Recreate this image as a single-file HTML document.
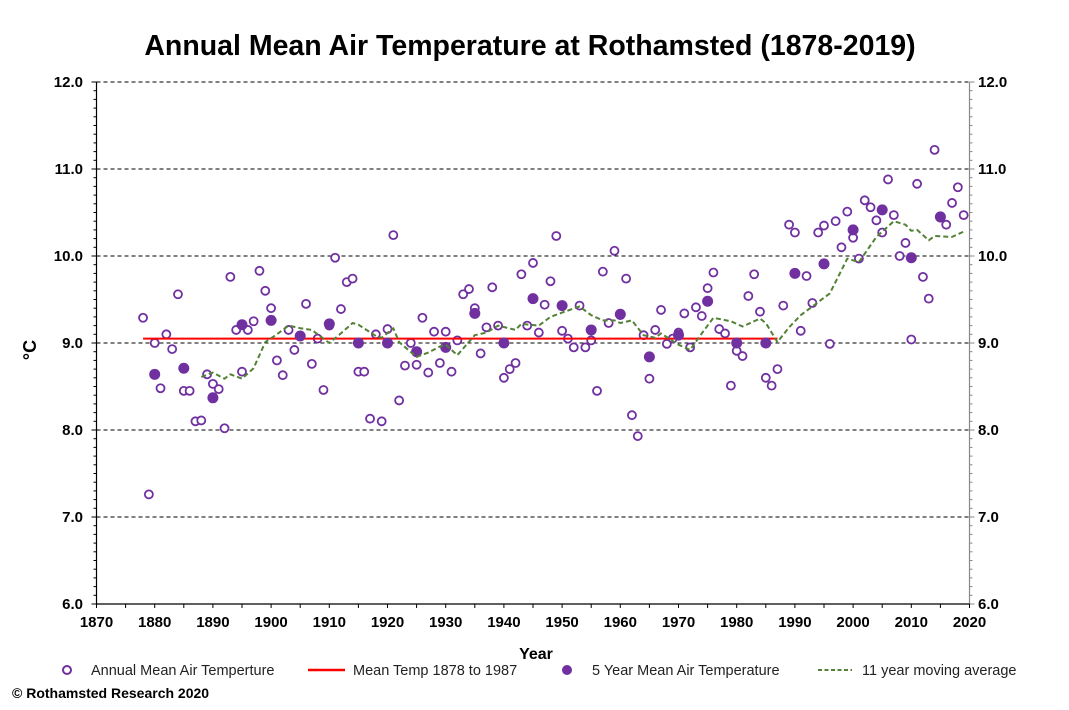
<!DOCTYPE html>
<html><head><meta charset="utf-8"><style>
body{margin:0;background:#fff;}
svg{display:block;font-family:"Liberation Sans",Arial,sans-serif;}
</style></head><body>
<svg id="chart" width="1069" height="710" viewBox="0 0 1069 710">
<text x="530" y="55" text-anchor="middle" font-size="28.5" font-weight="bold">Annual Mean Air Temperature at Rothamsted (1878-2019)</text>
<g id="grid"></g>
<g id="axes"></g>
<g id="marks"></g>
<text x="36" y="350" font-size="18" font-weight="bold" text-anchor="middle" transform="rotate(-90 36 350)">°C</text>
<text x="536" y="659" font-size="16" font-weight="bold" text-anchor="middle">Year</text>
<g font-size="14.5" fill="#222">
 <g><circle cx="67" cy="670" r="4" fill="#fff" stroke="#7030a0" stroke-width="2"/><text x="91" y="675">Annual Mean Air Temperture</text></g>
 <g><line x1="308" y1="670" x2="345" y2="670" stroke="#ff0000" stroke-width="2.5"/><text x="353" y="675">Mean Temp 1878 to 1987</text></g>
 <g><circle cx="567" cy="670" r="5" fill="#7030a0"/><text x="592" y="675">5 Year Mean Air Temperature</text></g>
 <g><line x1="818" y1="670" x2="852" y2="670" stroke="#538135" stroke-width="2" stroke-dasharray="4,2.5"/><text x="862" y="675">11 year moving average</text></g>
</g>
<text x="12" y="698" font-size="14" font-weight="bold">© Rothamsted Research 2020</text>
</svg>
<script>
const annualStartYear = 1878;
const annualTemps = [9.29,7.26,9.00,8.48,9.10,8.93,9.56,8.45,8.45,8.10,8.11,8.64,8.53,8.47,8.02,9.76,9.15,8.67,9.15,9.25,9.83,9.60,9.40,8.80,8.63,9.15,8.92,9.08,9.45,8.76,9.05,8.46,9.20,9.98,9.39,9.70,9.74,8.67,8.67,8.13,9.10,8.10,9.16,10.24,8.34,8.74,9.00,8.75,9.29,8.66,9.13,8.77,9.13,8.67,9.03,9.56,9.62,9.40,8.88,9.18,9.64,9.20,8.60,8.70,8.77,9.79,9.20,9.92,9.12,9.44,9.71,10.23,9.14,9.05,8.95,9.43,8.95,9.03,8.45,9.82,9.23,10.06,9.32,9.74,8.17,7.93,9.09,8.59,9.15,9.38,8.99,9.05,9.12,9.34,8.95,9.41,9.31,9.63,9.81,9.16,9.11,8.51,8.91,8.85,9.54,9.79,9.36,8.60,8.51,8.70,9.43,10.36,10.27,9.14,9.77,9.46,10.27,10.35,8.99,10.40,10.10,10.51,10.21,9.97,10.64,10.56,10.41,10.27,10.88,10.47,10.00,10.15,9.04,10.83,9.76,9.51,11.22,10.44,10.36,10.61,10.79,10.47];
const fiveYearYears = [1880,1885,1890,1895,1900,1905,1910,1915,1920,1925,1930,1935,1940,1945,1950,1955,1960,1965,1970,1975,1980,1985,1990,1995,2000,2005,2010,2015];
const fiveYearTemps = [8.64,8.71,8.37,9.21,9.26,9.08,9.22,9.00,9.00,8.90,8.95,9.34,9.00,9.51,9.43,9.15,9.33,8.84,9.09,9.48,9.00,9.00,9.80,9.91,10.30,10.53,9.98,10.45];
const maYears = [1888,1890,1892,1893,1895,1897,1899,1901,1903,1905,1907,1909,1910,1912,1914,1915,1918,1919,1921,1922,1925,1927,1929,1930,1932,1935,1937,1939,1942,1943,1946,1948,1950,1953,1955,1957,1959,1960,1962,1964,1966,1967,1970,1972,1974,1976,1979,1981,1984,1985,1987,1989,1991,1993,1996,1999,2001,2004,2007,2009,2010,2011,2013,2014,2017,2019];
const maTemps = [8.61,8.66,8.59,8.64,8.59,8.71,9.01,9.10,9.20,9.17,9.15,9.05,9.00,9.11,9.23,9.21,9.08,9.06,9.17,9.01,8.84,8.89,8.96,8.98,8.86,9.09,9.12,9.20,9.15,9.22,9.20,9.30,9.35,9.42,9.32,9.26,9.26,9.23,9.26,9.09,9.06,9.11,8.98,8.92,9.11,9.29,9.25,9.19,9.28,9.23,9.01,9.18,9.32,9.42,9.57,9.97,9.93,10.22,10.40,10.36,10.29,10.30,10.18,10.23,10.22,10.28];
const meanYears = [1878,1987];
const meanTemp = 9.05;
const xTicks = [1870,1880,1890,1900,1910,1920,1930,1940,1950,1960,1970,1980,1990,2000,2010,2020];
const yTicks = [6,7,8,9,10,11,12];

const X0=96.5,X1=969.5,Y0=604,Y1=82;
const xMin=1870,xMax=2020,yMin=6,yMax=12;
function sx(v){return X0+(v-xMin)/(xMax-xMin)*(X1-X0);}
function sy(v){return Y0-(v-yMin)/(yMax-yMin)*(Y0-Y1);}
const NS='http://www.w3.org/2000/svg';
function mk(tag,attrs,parent){const e=document.createElementNS(NS,tag);for(const k in attrs)e.setAttribute(k,attrs[k]);parent.appendChild(e);return e;}
const grid=document.getElementById('grid'),axes=document.getElementById('axes'),marks=document.getElementById('marks');

yTicks.forEach(t=>{
 if(t>yMin){const g=mk('line',{x1:X0,x2:X1,y1:sy(t),y2:sy(t),stroke:'#000','stroke-width':1,'stroke-dasharray':'4,3'},grid);
 
 }
 const l=mk('text',{x:83,y:sy(t)+5,'text-anchor':'end','font-size':15,'font-weight':'bold'},axes);l.textContent=t.toFixed(1);
 
 
 const r=mk('text',{x:978,y:sy(t)+5,'font-size':15,'font-weight':'bold'},axes);r.textContent=t.toFixed(1);
 
 
});
for(let v=60;v<=120;v++){
 const y=sy(v/10),maj=v%10===0;
 mk('line',{x1:X0-(maj?5:3),x2:X0,y1:y,y2:y,stroke:'#000','stroke-width':1},axes);
 mk('line',{x1:X1,x2:X1+(maj?5:3),y1:y,y2:y,stroke:'#888','stroke-width':1},axes);
}
for(let yr=1870;yr<=2020;yr+=5){
 mk('line',{x1:sx(yr),x2:sx(yr),y1:Y0,y2:Y0+4,stroke:'#000','stroke-width':1},axes);
}
xTicks.forEach(t=>{
 const l=mk('text',{x:sx(t),y:627,'text-anchor':'middle','font-size':15,'font-weight':'bold'},axes);l.textContent=t;
 
 
});
const ya=mk('line',{x1:X0,x2:X0,y1:Y1,y2:Y0,stroke:'#000','stroke-width':1.2},axes);


const yr2=mk('line',{x1:X1,x2:X1,y1:Y1,y2:Y0,stroke:'#888','stroke-width':1.2},axes);


const xa=mk('line',{x1:X0,x2:X1,y1:Y0,y2:Y0,stroke:'#000','stroke-width':1.2},axes);



annualTemps.forEach((v,i)=>{
 const c=mk('circle',{cx:sx(annualStartYear+i),cy:sy(v),r:4,fill:'#fff',stroke:'#7030a0','stroke-width':1.8},marks);
 
 
});
const ml=mk('line',{x1:sx(meanYears[0]),x2:sx(meanYears[1]),y1:sy(meanTemp),y2:sy(meanTemp),stroke:'#ff0000','stroke-width':2},marks);


fiveYearTemps.forEach((v,i)=>{
 const c=mk('circle',{cx:sx(fiveYearYears[i]),cy:sy(v),r:5.5,fill:'#7030a0'},marks);
 
 
});
const pts=maYears.map((y,i)=>sx(y).toFixed(1)+','+sy(maTemps[i]).toFixed(1)).join(' ');
const ma=mk('polyline',{points:pts,fill:'none',stroke:'#538135','stroke-width':2,'stroke-dasharray':'5,3','stroke-linejoin':'round'},marks);


</script>
</body></html>
